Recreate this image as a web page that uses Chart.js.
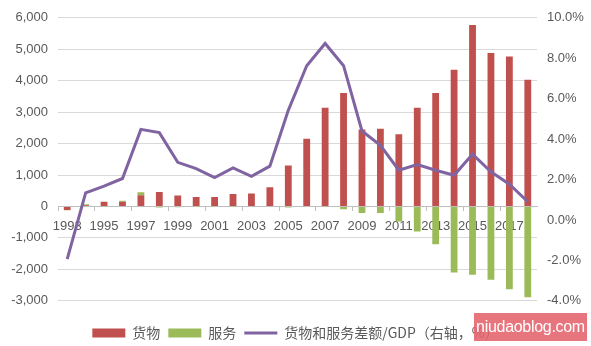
<!DOCTYPE html>
<html>
<head>
<meta charset="utf-8">
<script src="https://cdn.jsdelivr.net/npm/chart.js@4/dist/chart.umd.min.js"></script>
<style>
  html, body { margin: 0; padding: 0; background: #fff; }
  #wrap { position: relative; width: 591px; height: 346px; }
  #mark {
    position: absolute; left: 474px; top: 313px; width: 113px; height: 28px;
    background: rgba(228, 98, 108, 0.88); color: #fff;
    font: 16px "Liberation Sans", sans-serif; line-height: 28px; text-align: center;
    letter-spacing: -0.3px;
  }
</style>
</head>
<body>
<div id="wrap">
  <canvas id="chart" width="591" height="346"></canvas>
  <div id="mark">niudaoblog.com</div>
</div>
<script>
// 单位：亿美元；差额占 GDP 比重 %
const years = ["1993", "1994", "1995", "1996", "1997", "1998", "1999", "2000", "2001", "2002",
               "2003", "2004", "2005", "2006", "2007", "2008", "2009", "2010", "2011", "2012",
               "2013", "2014", "2015", "2016", "2017", "2018"];
const goods = [-110, 40, 150, 150, 360, 460, 350, 300, 300, 400,
               410, 610, 1300, 2150, 3140, 3610, 2450, 2470, 2300, 3140,
               3610, 4350, 5770, 4880, 4770, 4030];
const services = [-10, 30, -10, 30, 90, -30, -25, -10, -10, -10,
                  -20, -20, -30, -20, -10, -90, -210, -210, -480, -800,
                  -1200, -2100, -2170, -2330, -2630, -2890];
const balanceGdp = [-1.94, 1.34, 1.67, 2.05, 4.48, 4.32, 2.85, 2.54, 2.10, 2.57,
                    2.16, 2.66, 5.42, 7.63, 8.73, 7.63, 4.40, 3.69, 2.46, 2.74,
                    2.46, 2.21, 3.25, 2.38, 1.77, 0.90];

const labelColor = "#595959";
const gridColor = "#d9d9d9";
const latin = "'Liberation Sans', sans-serif";
const cjk = "'Noto Sans CJK SC', sans-serif";

new Chart(document.getElementById("chart"), {
    type: "bar",
    data: {
        labels: years,
        datasets: [
            {
                label: "货物",
                data: goods,
                backgroundColor: "#c0504d",
                yAxisID: "y",
                order: 1
            },
            {
                label: "服务",
                data: services,
                backgroundColor: "#9bbb59",
                yAxisID: "y",
                order: 1
            },
            {
                type: "line",
                label: "货物和服务差额/GDP（右轴，%）",
                data: balanceGdp,
                borderColor: "#8064a2",
                backgroundColor: "#8064a2",
                borderWidth: 3,
                pointRadius: 0,
                tension: 0,
                yAxisID: "y1",
                order: 0
            }
        ]
    },
    options: {
        responsive: false,
        animation: false,
        categoryPercentage: 1,
        barPercentage: 0.37,
        layout: { padding: { top: 17, bottom: -4, left: 0, right: 0 } },
        scales: {
            x: {
                stacked: true,
                position: { y: 0 },
                offset: true,
                border: { display: true, color: "#bfbfbf" },
                grid: {
                    offset: true,
                    drawOnChartArea: false,
                    drawTicks: true,
                    tickLength: 4,
                    color: ctx => (ctx.index % 2 === 0 ? "#bfbfbf" : "rgba(0,0,0,0)")
                },
                ticks: {
                    autoSkip: false,
                    maxRotation: 0,
                    padding: 8,
                    color: labelColor,
                    font: { family: latin, size: 13 },
                    callback: function (value, index) {
                        return index % 2 === 0 ? this.getLabelForValue(value) : "";
                    }
                }
            },
            y: {
                stacked: true,
                position: "left",
                min: -3000,
                max: 6000,
                border: { display: false },
                grid: { color: gridColor, drawTicks: false },
                ticks: {
                    stepSize: 1000,
                    padding: 10,
                    color: labelColor,
                    font: { family: latin, size: 13 },
                    callback: v => v.toLocaleString("en-US")
                },
                afterFit: scale => { scale.width = 58; }
            },
            y1: {
                position: "right",
                min: -4,
                max: 10,
                border: { display: false },
                grid: { display: false, drawTicks: false },
                ticks: {
                    stepSize: 2,
                    padding: 10,
                    color: labelColor,
                    font: { family: latin, size: 13 },
                    callback: v => v.toFixed(1) + "%"
                },
                afterFit: scale => { scale.width = 54; }
            }
        },
        plugins: {
            tooltip: { enabled: false },
            legend: {
                position: "bottom",
                title: { display: true, text: " ", font: { size: 1 }, padding: { top: 16, bottom: 0 } },
                labels: {
                    usePointStyle: true,
                    pointStyleWidth: 33,
                    boxHeight: 9,
                    padding: 8,
                    color: labelColor,
                    font: { family: cjk, size: 14 },
                    sort: (a, b) => a.datasetIndex - b.datasetIndex,
                    generateLabels: chart =>
                        Chart.defaults.plugins.legend.labels.generateLabels(chart).map(item => ({
                            ...item,
                            pointStyle: item.datasetIndex === 2 ? "line" : "rect",
                            lineWidth: item.datasetIndex === 2 ? 3 : 0
                        }))
                }
            }
        }
    }
});
</script>
</body>
</html>
